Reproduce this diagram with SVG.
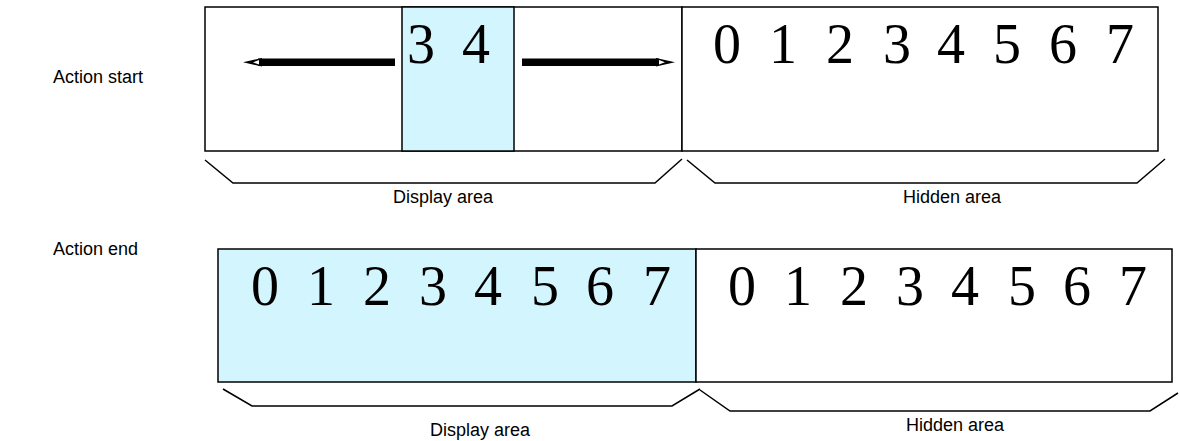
<svg xmlns="http://www.w3.org/2000/svg" width="1180" height="441" viewBox="0 0 1180 441">
  <style>
    .box { fill: #ffffff; stroke: #000000; stroke-width: 1.5; }
    .blue { fill: #d3f5fd; stroke: #000000; stroke-width: 1.5; }
    .brk { fill: none; stroke: #000000; stroke-width: 1.5; }
    .lbl { font-family: "Liberation Sans", Arial, sans-serif; font-size: 18px; fill: #000000; }
    .dig { font-family: "Liberation Serif", "Times New Roman", serif; font-size: 56px; fill: #000000; text-anchor: middle; }
    .mid { text-anchor: middle; }
  </style>
  <rect width="1180" height="441" fill="#ffffff"/>

  <g id="label-start"><text class="lbl" x="53" y="83">Action start</text></g>
  <g id="label-end"><text class="lbl" x="53" y="255">Action end</text></g>

  <!-- Top row -->
  <g id="top-display">
    <rect class="box" x="205" y="7" width="477" height="144"/>
    <rect class="blue" x="402" y="7" width="112" height="144"/>
    <text class="dig" x="421" y="63">3</text>
    <text class="dig" x="476" y="63">4</text>
  </g>
  <g id="top-hidden">
    <rect class="box" x="682" y="7" width="476" height="144"/>
    <text class="dig" x="727" y="63">0</text>
    <text class="dig" x="783" y="63">1</text>
    <text class="dig" x="840" y="63">2</text>
    <text class="dig" x="897" y="63">3</text>
    <text class="dig" x="951" y="63">4</text>
    <text class="dig" x="1007" y="63">5</text>
    <text class="dig" x="1063" y="63">6</text>
    <text class="dig" x="1120" y="63">7</text>
  </g>

  <!-- Bottom row -->
  <g id="bottom-display">
    <rect class="blue" x="218" y="249" width="478" height="133"/>
    <text class="dig" x="265" y="305">0</text>
    <text class="dig" x="321" y="305">1</text>
    <text class="dig" x="377" y="305">2</text>
    <text class="dig" x="433" y="305">3</text>
    <text class="dig" x="488" y="305">4</text>
    <text class="dig" x="545" y="305">5</text>
    <text class="dig" x="600" y="305">6</text>
    <text class="dig" x="657" y="305">7</text>
  </g>
  <g id="bottom-hidden">
    <rect class="box" x="696" y="249" width="476" height="133"/>
    <text class="dig" x="742" y="305">0</text>
    <text class="dig" x="798" y="305">1</text>
    <text class="dig" x="854" y="305">2</text>
    <text class="dig" x="910" y="305">3</text>
    <text class="dig" x="965" y="305">4</text>
    <text class="dig" x="1022" y="305">5</text>
    <text class="dig" x="1077" y="305">6</text>
    <text class="dig" x="1133" y="305">7</text>
  </g>

  <!-- Arrows and brackets -->
  <g id="connectors">
    <g id="arrow-left">
      <rect x="258" y="58.5" width="137" height="7.5" fill="#000"/>
      <polygon points="243,62.3 262,58 262,66.5" fill="#000"/>
      <polygon points="253,62.3 259,60 259,64.6" fill="#fff"/>
    </g>
    <g id="arrow-right">
      <rect x="522" y="58.5" width="137" height="7.5" fill="#000"/>
      <polygon points="675,62.3 656,58 656,66.5" fill="#000"/>
      <polygon points="665,62.3 659,60 659,64.6" fill="#fff"/>
    </g>
    <polyline class="brk" points="205,160 233,183 655,183 682,159"/>
    <polyline class="brk" points="687,160 715,183 1137,183 1165,159"/>
    <polyline class="brk" points="223,389 252,406 672,406 700,389"/>
    <polyline class="brk" points="700,390 730,411 1150,411 1178,393"/>
  </g>

  <g id="area-labels">
    <text class="lbl mid" x="443" y="203">Display area</text>
    <text class="lbl mid" x="952" y="203">Hidden area</text>
    <text class="lbl mid" x="480" y="436">Display area</text>
    <text class="lbl mid" x="955" y="431">Hidden area</text>
  </g>
</svg>
